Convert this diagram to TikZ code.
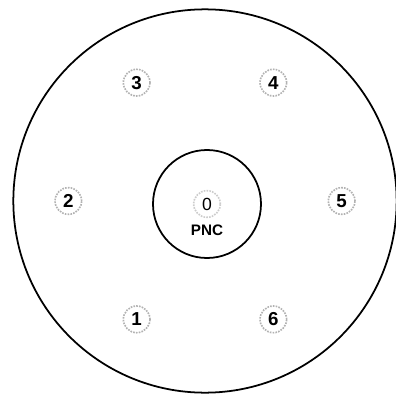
\documentclass[tikz,border=0pt]{standalone}
\usepackage{fontspec}
\setmainfont{Liberation Sans}
\usepackage{tikz}
\usetikzlibrary{positioning}

\begin{document}
\begin{tikzpicture}[
		font=\bfseries,
		ring/.style={draw, circle, line width=1.5pt, inner sep=0pt},
		station/.style={draw=gray!60, densely dotted, circle, line width=1.4pt,
			minimum size=0.8cm, inner sep=0pt, font=\bfseries\fontsize{16}{18}\selectfont}
		]
		\useasboundingbox (-6.15,-5.85) rectangle (5.73,6.03);
		
		% Rings
		\node[ring, minimum size=11.5cm] (cell) at (0,0) {};
		\node[ring, minimum size=3.24cm] (core) at (0.06,-0.09) {};
		
		% Central station
		\node[station, draw=gray!40, font=\fontsize{15}{17}\selectfont] (s0) at (core.center) {0};
		\node[below=0.08cm of s0, font=\bfseries\fontsize{13}{15}\selectfont] (pnc) {PNC};
		
		% Outer stations
		\foreach \i in {1,...,6}
			\node[station] (s\i) at ({300-60*\i}:4.1) {\i};
	\end{tikzpicture}
\end{document}
